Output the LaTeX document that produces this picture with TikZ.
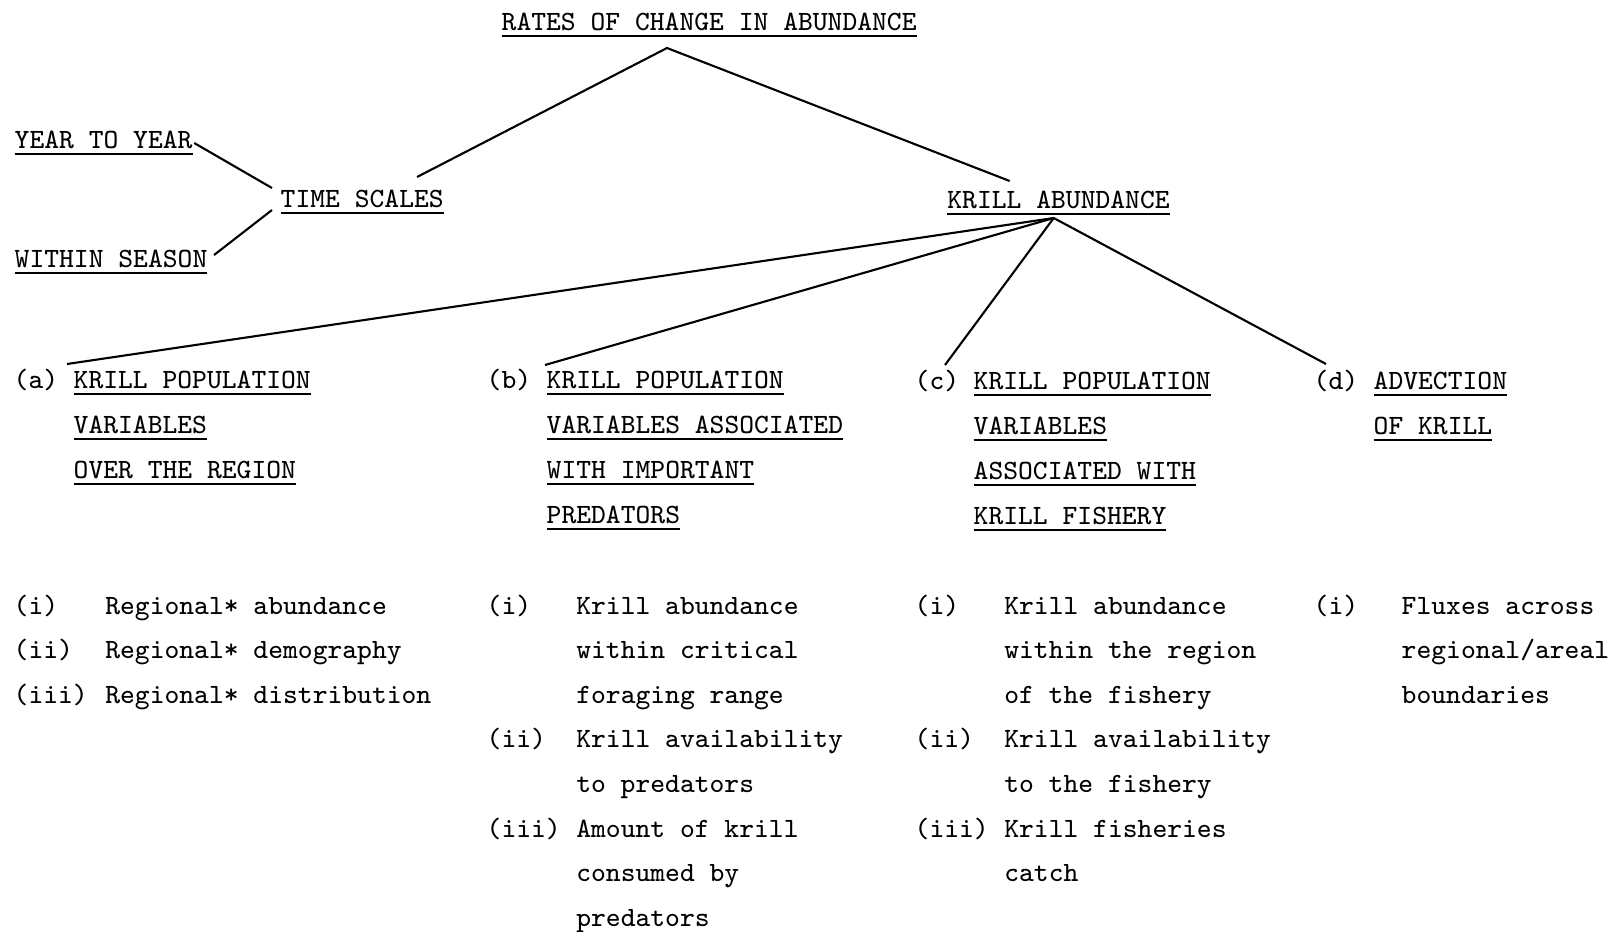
\documentclass[tikz,border=0pt]{standalone}
\tikzstyle{hd}=[inner sep=0pt,anchor=base west,font=\ttfamily\fontsize{7.94}{10}\selectfont]
\tikzstyle{ln}=[line width=.6pt]
\newcommand{\undl}[1]{\setbox0\hbox{#1}\rlap{\rule[-1.9pt]{\wd0}{.6pt}}\box0}

\begin{document}
\begin{tikzpicture}[x=0.1mm,y=-0.1mm]
		\useasboundingbox (0,0) rectangle (1610,931);
		% top of the tree
		\node[hd] (title) at (501,30) {\undl{RATES OF CHANGE IN ABUNDANCE}};
		\node[hd] (ts) at (280,207) {\undl{TIME SCALES}};
		\node[hd] (ka) at (946.7,208) {\undl{KRILL ABUNDANCE}};
		\node[hd] (yty) at (14,148) {\undl{YEAR TO YEAR}};
		\node[hd] (ws) at (14,267) {\undl{WITHIN SEASON}};
		\coordinate (apex) at ([shift={(166,18)}]title.base west);
		\coordinate (hub) at ([shift={(107,10)}]ka.base west);
		\draw[ln] ([shift={(137,-30)}]ts.base west) -- (apex) -- ([shift={(63,-27)}]ka.base west);
		\draw[ln] ([shift={(1,-5)}]yty.base east) -- ([shift={(-8,-19)}]ts.base west);
		\draw[ln] ([shift={(6,-12)}]ws.base east) -- ([shift={(-8,3)}]ts.base west);
		% the four headings
		\node[hd] (la) at (13,388) {(a)};
		\node[hd] (lb) at (486,388) {(b)};
		\node[hd] (lc) at (914,389) {(c)};
		\node[hd] (ld) at (1313,389) {(d)};
		\foreach \t [count=\i from 0] in {KRILL POPULATION,VARIABLES,OVER THE REGION}
			\node[hd] (a\i) at (73,388+45.2*\i) {\undl{\t}};
		\foreach \t [count=\i from 0] in {KRILL POPULATION,VARIABLES ASSOCIATED,WITH IMPORTANT,PREDATORS}
			\node[hd] (b\i) at (546,388+45.2*\i) {\undl{\t}};
		\foreach \t [count=\i from 0] in {KRILL POPULATION,VARIABLES,ASSOCIATED WITH,KRILL FISHERY}
			\node[hd] (c\i) at (973,389+45.2*\i) {\undl{\t}};
		\foreach \t [count=\i from 0] in {ADVECTION,OF KRILL}
			\node[hd] (d\i) at (1373,389+45.2*\i) {\undl{\t}};
		\draw[ln] (hub) -- ([shift={(-6,-24)}]a0.base west);
		\draw[ln] (hub) -- ([shift={(-1,-23)}]b0.base west);
		\draw[ln] (hub) -- ([shift={(31,-24)}]lc.base west);
		\draw[ln] (hub) -- ([shift={(13,-25)}]ld.base west);
		% the lists
		\foreach \x/\r/\n in {13/0/i,13/1/ii,13/2/iii,486/0/i,486/3/ii,486/5/iii,914/0/i,914/3/ii,914/5/iii,1313/0/i}
			\node[hd] (n\x-\r) at (\x,614+44.6*\r) {(\n)};
		\foreach \t [count=\i from 0] in {Regional* abundance,Regional* demography,Regional* distribution}
			\node[hd] (ra\i) at (104.6,614+44.6*\i) {\t};
		\foreach \t [count=\i from 0] in {Krill abundance,within critical,foraging range,Krill availability,to predators,Amount of krill,consumed by,predators}
			\node[hd] (rb\i) at (575.6,614+44.6*\i) {\t};
		\foreach \t [count=\i from 0] in {Krill abundance,within the region,of the fishery,Krill availability,to the fishery,Krill fisheries,catch}
			\node[hd] (rc\i) at (1003.6,614+44.6*\i) {\t};
		\foreach \t [count=\i from 0] in {Fluxes across,regional/areal,boundaries}
			\node[hd] (rd\i) at (1401,614+44.6*\i) {\t};
	\end{tikzpicture}
\end{document}
